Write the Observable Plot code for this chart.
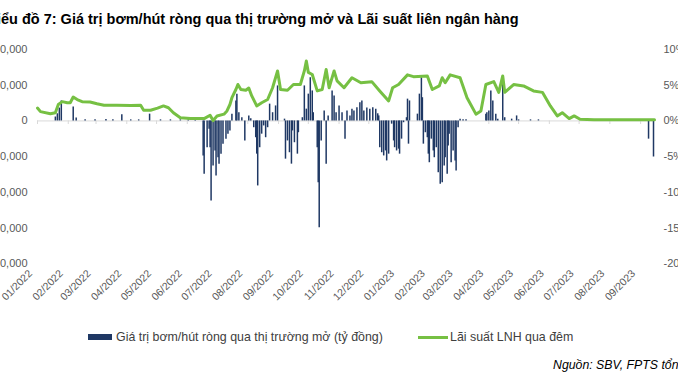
<!DOCTYPE html>
<html><head><meta charset="utf-8">
<script src="https://cdn.jsdelivr.net/npm/d3@7"></script>
<script src="https://cdn.jsdelivr.net/npm/@observablehq/plot@0.6"></script>
<style>
body{margin:0;width:678px;height:381px;overflow:hidden;background:#fff;position:relative;font-family:"Liberation Sans",Arial,sans-serif;}
#title{position:absolute;left:-13.5px;top:11px;font-weight:bold;font-size:14.5px;line-height:17px;white-space:nowrap;color:#000}
#chart{position:absolute;left:-40px;top:0;width:760px;height:320px}
#chart svg{max-width:none !important;width:760px;height:320px}
.lg{position:absolute;font-size:12.4px;line-height:14px;white-space:nowrap;color:#404040}
.sw{position:absolute}
#source{position:absolute;left:553px;top:358px;font-style:italic;font-size:12.3px;line-height:14px;white-space:nowrap;color:#000}
</style></head>
<body>
<div id="title">Biểu đồ 7: Giá trị bơm/hút ròng qua thị trường mở và Lãi suất liên ngân hàng</div>
<div id="chart"></div>
<div class="sw" style="left:88px;top:334px;width:24px;height:6px;background:#1F3864"></div>
<div class="lg" style="left:116px;top:330px">Giá trị bơm/hút ròng qua thị trường mở (tỷ đồng)</div>
<div class="sw" style="left:418px;top:336px;width:30px;height:3px;background:#76C043"></div>
<div class="lg" style="left:450px;top:330px">Lãi suất LNH qua đêm</div>
<div id="source">Nguồn: SBV, FPTS tổng hợp</div>
<script>
// Left axis (tỷ đồng) and right axis (%) ticks
const leftTicks = [20000, 10000, 0, -10000, -20000, -30000, -40000];
const rightTickLabels = ["10%", "5%", "0%", "-5%", "-10%", "-15%", "-20%"];
const rateToFlow = 2000; // 10% on the right axis lines up with 20,000 on the left
const monthTicks = ["2022-01-01","2022-02-01","2022-03-01","2022-04-01","2022-05-01","2022-06-01","2022-07-01","2022-08-01","2022-09-01","2022-10-01","2022-11-01","2022-12-01","2023-01-01","2023-02-01","2023-03-01","2023-04-01","2023-05-01","2023-06-01","2023-07-01","2023-08-01","2023-09-01"];

// Net OMO injection/withdrawal (tỷ đồng)
const flowDates = ["2022-01-19","2022-01-21","2022-01-23","2022-01-25","2022-02-06","2022-02-09","2022-02-18","2022-02-28","2022-03-11","2022-03-18","2022-03-27","2022-04-05","2022-04-13","2022-04-24","2022-05-05","2022-05-15","2022-05-25","2022-06-02","2022-06-09",
"2022-06-17","2022-06-18","2022-06-21","2022-06-23","2022-06-24","2022-06-25","2022-06-27","2022-06-29","2022-06-30","2022-07-02","2022-07-03","2022-07-05","2022-07-07","2022-07-10","2022-07-12","2022-07-14",
"2022-07-16","2022-07-20","2022-07-21","2022-07-23","2022-07-26","2022-07-29","2022-08-02","2022-08-04","2022-08-07","2022-08-09","2022-08-10","2022-08-11","2022-08-13","2022-08-15","2022-08-17","2022-08-19","2022-08-21",
"2022-08-23","2022-08-26","2022-08-29","2022-08-31","2022-09-07","2022-09-08","2022-09-10","2022-09-12","2022-09-14","2022-09-15","2022-09-17","2022-09-20","2022-09-21","2022-09-25","2022-09-27","2022-09-29",
"2022-10-01","2022-10-03","2022-10-05","2022-10-06","2022-10-10","2022-10-11","2022-10-12","2022-10-14","2022-10-17","2022-10-19","2022-10-21","2022-10-25","2022-10-27","2022-10-29",
"2022-11-01","2022-11-04","2022-11-07","2022-11-09","2022-11-12","2022-11-14","2022-11-16","2022-11-19","2022-11-22","2022-11-24","2022-11-26","2022-11-29",
"2022-12-02","2022-12-05","2022-12-08","2022-12-10","2022-12-11","2022-12-12","2022-12-14","2022-12-16","2022-12-18","2022-12-19","2022-12-21","2022-12-24","2022-12-26","2022-12-27","2022-12-29","2022-12-31",
"2023-01-01","2023-01-03","2023-01-05","2023-01-08","2023-01-09","2023-01-10","2023-01-11","2023-01-19","2023-01-21","2023-01-23","2023-01-24","2023-01-25","2023-01-27","2023-01-29","2023-01-30","2023-01-31",
"2023-02-02","2023-02-04","2023-02-05","2023-02-07","2023-02-09","2023-02-11","2023-02-13","2023-02-15","2023-02-16","2023-02-18","2023-02-19","2023-02-20","2023-02-22","2023-02-24","2023-02-26","2023-02-27",
"2023-03-01","2023-03-03","2023-03-06","2023-03-09","2023-03-29","2023-03-30","2023-04-01","2023-04-03","2023-04-05","2023-04-08","2023-04-10","2023-04-15","2023-04-17","2023-04-24","2023-04-29","2023-05-01","2023-05-13","2023-05-21",
"2023-09-09","2023-09-14"];
const flowValues = [1100,2000,3600,5600,3900,800,300,300,400,300,1700,300,300,1900,300,300,300,300,300,
-9800,-14900,-7500,-2300,-7500,-22400,-12600,-8400,-15400,-10300,-12100,-9300,-6500,-5100,-3700,-2800,
1900,5600,7500,2300,900,-5600,1400,600,-1900,-4700,-9300,-18200,-7500,-3700,-1400,-4700,-1900,
4700,2300,4200,9800,500,-10700,-5600,-8900,-12100,-2800,-6100,-9300,-3300,900,9800,3300,
7500,12100,8400,2300,-7500,-17300,-29900,-5600,2800,-12100,1400,8400,7000,2300,
4200,2300,-5100,2800,1400,3300,2800,3700,5100,5600,2800,3600,
3300,3700,3300,2000,1400,-7500,-8900,-9800,-8400,-11200,-9300,-900,-5600,-7500,-8400,-7900,
-9300,-5100,-500,900,6100,-6500,5600,1900,7500,12100,6500,-6500,-3300,-4700,-9300,-11700,
-5100,-8400,-10300,-7500,-14500,-17700,-17300,-12600,-10300,-14900,-7000,-3700,-11700,-8400,-11200,-14000,
-1900,500,300,300,1900,2300,2800,8400,5600,1900,500,12600,900,500,1400,300,300,300,
-5100,-10100];

// Overnight interbank rate (%)
const rateDates = ["2022-01-01","2022-01-04","2022-01-14","2022-01-19","2022-01-22","2022-01-26","2022-01-31","2022-02-03","2022-02-06","2022-02-10","2022-02-15","2022-02-23","2022-03-02","2022-03-09","2022-03-22","2022-04-05","2022-04-15","2022-04-18","2022-04-25","2022-05-02","2022-05-08","2022-05-13","2022-05-18","2022-05-25","2022-06-04","2022-06-18","2022-06-24","2022-06-27","2022-07-01","2022-07-08","2022-07-11","2022-07-14","2022-07-16","2022-07-20","2022-07-22","2022-07-25","2022-07-30","2022-08-02","2022-08-05","2022-08-10","2022-08-15","2022-08-21","2022-08-26","2022-08-31","2022-09-03","2022-09-10","2022-09-16","2022-09-23","2022-09-27","2022-09-29","2022-10-01","2022-10-05","2022-10-10","2022-10-15","2022-10-19","2022-10-22","2022-10-27","2022-10-30","2022-11-06","2022-11-14","2022-11-23","2022-12-04","2022-12-12","2022-12-21","2022-12-25","2022-12-31","2023-01-09","2023-01-15","2023-01-29","2023-02-03","2023-02-10","2023-02-13","2023-02-16","2023-02-21","2023-03-03","2023-03-10","2023-03-19","2023-03-24","2023-03-29","2023-04-06","2023-04-11","2023-04-15","2023-04-17","2023-04-26","2023-05-06","2023-05-16","2023-05-25","2023-06-02","2023-06-09","2023-06-14","2023-06-21","2023-06-26","2023-07-02","2023-07-16","2023-08-02","2023-08-22","2023-09-15"];
const rateValues = [1.8,1.3,1.0,1.15,2.3,2.7,2.55,2.55,3.35,3.0,2.7,2.65,2.4,2.2,2.2,2.15,2.2,1.5,1.5,1.8,2.1,1.85,1.15,0.45,0.33,0.33,0.8,0.05,0.7,0.95,1.4,2.3,3.25,4.4,5.1,4.4,4.3,4.6,3.5,2.1,2.55,3.0,4.65,7.0,4.4,4.3,5.1,5.1,7.0,8.4,6.8,6.5,4.2,4.4,7.2,4.65,7.0,5.6,4.65,6.05,5.35,5.5,4.2,2.8,4.65,5.1,6.45,6.2,6.3,4.4,4.9,6.05,5.35,6.45,6.05,3.25,0.95,1.4,5.1,5.5,4.0,6.3,4.0,5.1,4.9,4.2,4.0,2.1,0.7,1.15,0.33,0.7,0.24,0.15,0.15,0.15,0.15];

const flow = flowDates.map((d, i) => ({date: new Date(d), value: flowValues[i]}));
const rate = rateDates.map((d, i) => ({date: new Date(d), rate: rateValues[i]}));
const months = monthTicks.map(d => new Date(d));
const rightLabel = new Map(leftTicks.map((v, i) => [v, rightTickLabels[i]]));

const chart = Plot.plot({
  width: 760, height: 320,
  marginLeft: 77, marginRight: 66, marginTop: 49, marginBottom: 56.7,
  style: {fontFamily: "Liberation Sans, Arial, sans-serif", fontSize: "11px", color: "#595959", background: "transparent", overflow: "visible", maxWidth: "none"},
  x: {type: "utc", domain: [new Date("2022-01-01"), new Date("2023-09-15")]},
  y: {domain: [-40000, 20000]},
  marks: [
    Plot.axisY({anchor: "left", ticks: leftTicks, tickFormat: d => d.toLocaleString("en-US"), tickSize: 0, tickPadding: 10, label: null}),
    Plot.axisY({anchor: "right", ticks: leftTicks, tickFormat: d => rightLabel.get(d), tickSize: 0, tickPadding: 9, label: null}),
    Plot.axisX({anchor: "bottom", ticks: months, tickFormat: "%m/%Y", tickRotate: -45, tickSize: 0, tickPadding: 8, dx: -7, fontSize: 10.5, label: null}),
    Plot.ruleY([0], {stroke: "#d9d9d9", strokeWidth: 1}),
    Plot.ruleX(months, {x: d => d, y1: 0, y2: -1000, stroke: "#d9d9d9"}),
    Plot.ruleX(flow, {x: "date", y1: 0, y2: "value", stroke: "#1F3864", strokeWidth: 1.5}),
    Plot.line(rate, {x: "date", y: d => d.rate * rateToFlow, stroke: "#76C043", strokeWidth: 3, strokeLinejoin: "round"})
  ]
});
document.getElementById("chart").appendChild(chart);
</script>
</body></html>
